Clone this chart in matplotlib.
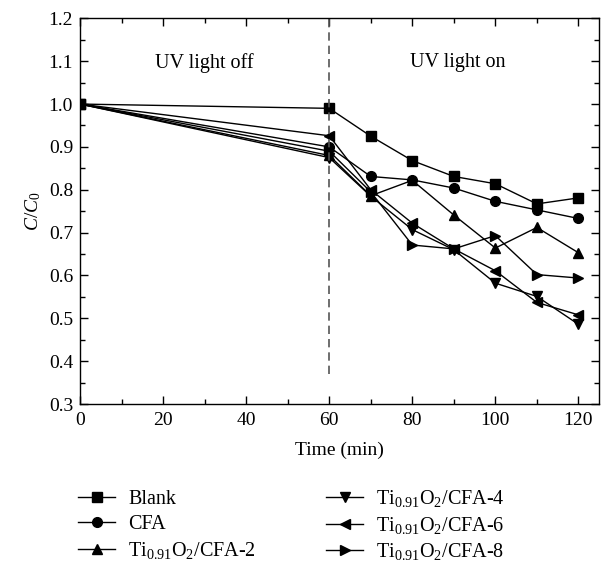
import matplotlib
matplotlib.use('Agg')
import matplotlib.pyplot as plt
from matplotlib.ticker import MultipleLocator, FormatStrFormatter

plt.rcParams['font.family'] = 'Liberation Serif'
plt.rcParams['mathtext.fontset'] = 'custom'
plt.rcParams['mathtext.rm'] = 'Liberation Serif'
plt.rcParams['mathtext.it'] = 'Liberation Serif:italic'

time = [0, 60, 70, 80, 90, 100, 110, 120]
blank = [1.0, 0.990, 0.925, 0.868, 0.831, 0.814, 0.767, 0.781]
cfa = [1.0, 0.900, 0.831, 0.823, 0.804, 0.773, 0.753, 0.733]
ti_2 = [1.0, 0.880, 0.786, 0.822, 0.741, 0.664, 0.712, 0.653]
ti_4 = [1.0, 0.875, 0.785, 0.707, 0.660, 0.582, 0.551, 0.486]
ti_6 = [1.0, 0.926, 0.800, 0.722, 0.662, 0.611, 0.537, 0.508]
ti_8 = [1.0, 0.890, 0.795, 0.671, 0.662, 0.693, 0.602, 0.594]

labels = ['Blank', 'CFA',
          r'Ti$_{0.91}$O$_2$/CFA-2', r'Ti$_{0.91}$O$_2$/CFA-4',
          r'Ti$_{0.91}$O$_2$/CFA-6', r'Ti$_{0.91}$O$_2$/CFA-8']
series = [blank, cfa, ti_2, ti_4, ti_6, ti_8]
markers = ['s', 'o', '^', 'v', '<', '>']

fig = plt.figure(figsize=(6.03, 5.63), dpi=100)
ax = fig.add_axes([0.1327, 0.2824, 0.861, 0.685])

handles = []
for y, m, lab in zip(series, markers, labels):
    h, = ax.plot(time, y, color='black', lw=1.0, marker=m, markersize=7, label=lab)
    handles.append(h)

ax.plot([60, 60], [0.37, 1.2], color='#555555', lw=1.2, ls=(0, (5, 3)))
ax.text(30, 1.096, 'UV light off', ha='center', va='center', fontsize=14.5)
ax.text(90.9, 1.096, 'UV light on', ha='center', va='center', fontsize=14.5)

ax.set_xlim(0, 125)
ax.set_ylim(0.3, 1.2)
ax.xaxis.set_major_locator(MultipleLocator(20))
ax.xaxis.set_minor_locator(MultipleLocator(10))
ax.yaxis.set_major_locator(MultipleLocator(0.1))
ax.yaxis.set_minor_locator(MultipleLocator(0.05))
ax.yaxis.set_major_formatter(FormatStrFormatter('%.1f'))
ax.tick_params(which='both', direction='in', top=True, right=True, labelsize=14)
ax.tick_params(which='major', length=6, width=1)
ax.tick_params(which='minor', length=3.5, width=1)
ax.tick_params(axis='x', pad=6)
ax.tick_params(axis='y', pad=5)
for s in ax.spines.values():
    s.set_linewidth(1.0)

ax.set_xlabel('Time (min)', fontsize=14, labelpad=9)
ax.set_ylabel(r'$C/C_0$', fontsize=14)

leg_kw = dict(loc='upper left', frameon=False, fontsize=14.5, handlelength=1.85,
              handletextpad=0.65, borderpad=0, borderaxespad=0)
leg1 = fig.legend(handles[:3], labels[:3], bbox_to_anchor=(78 / 603, 1 - 490 / 563),
                  labelspacing=0.3, **leg_kw)
leg2 = fig.legend(handles[3:], labels[3:], bbox_to_anchor=(326 / 603, 1 - 488 / 563),
                  labelspacing=0.28, **leg_kw)

fig.savefig('out.png', dpi=100)
